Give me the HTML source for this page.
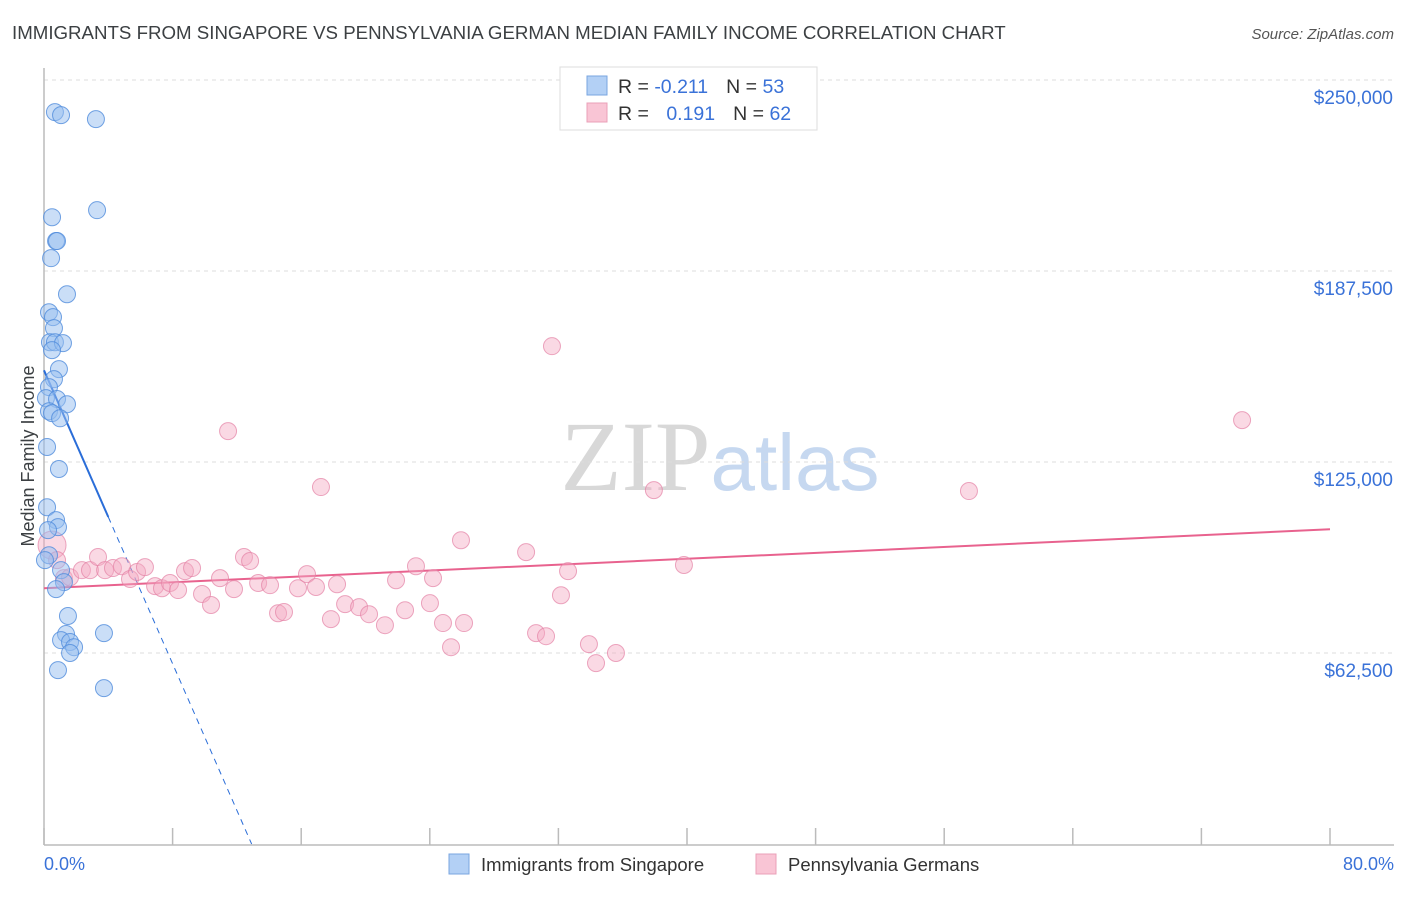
<!DOCTYPE html>
<html><head><meta charset="utf-8"><style>
body{margin:0;background:#fff;font-family:"Liberation Sans",sans-serif;}
svg text{font-family:"Liberation Sans",sans-serif;}
</style></head><body>
<svg id="chart" width="1406" height="892" xmlns="http://www.w3.org/2000/svg">
<text x="12" y="39" font-size="18.7" fill="#3c4043">IMMIGRANTS FROM SINGAPORE VS PENNSYLVANIA GERMAN MEDIAN FAMILY INCOME CORRELATION CHART</text>
<text x="1394" y="39" font-size="15" fill="#555" text-anchor="end" font-style="italic">Source: ZipAtlas.com</text>
<text x="720" y="490" font-size="100" text-anchor="middle"><tspan fill="#d8d8d8" font-family="Liberation Serif,serif">ZIP</tspan><tspan fill="#c6d8f0" font-size="80">atlas</tspan></text>
<g id="grid"></g>
<g id="axes"></g>
<g id="trend"></g>
<g id="pts"></g>
<text transform="translate(34,456) rotate(-90)" font-size="18" fill="#3c4043" text-anchor="middle">Median Family Income</text>
<text x="44" y="870" font-size="18" fill="#3a72d8">0.0%</text>
<text x="1394" y="870" font-size="18" fill="#3a72d8" text-anchor="end">80.0%</text>
<g>
<rect x="560" y="67" width="257" height="63" fill="#fff" stroke="#ddd"/>
<rect x="587" y="76" width="20" height="19" fill="#b3d0f5" stroke="#7aa6e0"/>
<rect x="587" y="103" width="20" height="19" fill="#f9c5d5" stroke="#eaa0b8"/>
<text x="618" y="93" font-size="19.5" fill="#333">R = <tspan fill="#3a72d8">-0.211</tspan><tspan dx="18">N = </tspan><tspan fill="#3a72d8">53</tspan></text>
<text x="618" y="120" font-size="19.5" fill="#333">R = <tspan fill="#3a72d8" dx="12">0.191</tspan><tspan dx="18">N = </tspan><tspan fill="#3a72d8">62</tspan></text>
</g>
<g>
<rect x="449" y="854" width="20" height="20" fill="#b3d0f5" stroke="#7aa6e0"/>
<text x="481" y="871" font-size="18.5" fill="#333">Immigrants from Singapore</text>
<rect x="756" y="854" width="20" height="20" fill="#f9c5d5" stroke="#eaa0b8"/>
<text x="788" y="871" font-size="18.5" fill="#333">Pennsylvania Germans</text>
</g>
</svg>
<script>
const yTicks=[62500,125000,187500,250000];
const yTickLabels=["$62,500","$125,000","$187,500","$250,000"];
const xTicks=[0,8,16,24,32,40,48,56,64,72,80];
const blueX=[0.68,1.06,3.23,0.50,3.30,0.75,0.81,0.44,1.43,0.31,0.56,0.62,0.37,0.68,1.18,0.50,0.93,0.62,0.31,0.12,0.81,1.43,0.31,0.50,1.00,0.19,0.93,0.19,0.75,0.87,0.25,0.31,0.06,1.06,1.24,0.75,1.49,3.73,1.37,1.06,1.62,1.87,1.62,0.87,3.73];
const blueY=[239500,238500,237200,205100,207400,197300,197300,191700,179900,174000,172400,168800,164200,164200,163900,161600,155400,152100,149500,145900,145600,143900,141600,141000,139300,129900,122700,110200,106000,103700,102700,94500,92900,89600,85700,83400,74600,69000,68700,66700,66100,64400,62500,56900,51000];
const pinkX=[0.5,0.81,1.24,1.62,2.36,2.86,3.36,3.80,4.29,4.85,5.35,5.79,6.28,6.91,7.34,7.84,8.34,8.77,9.21,9.83,10.39,10.95,11.45,11.82,12.44,12.82,13.32,14.06,14.56,14.93,15.80,16.36,16.92,17.23,18.23,17.85,18.73,19.60,20.22,21.21,21.90,22.46,23.14,24.01,24.20,24.82,25.32,25.94,26.13,29.99,30.61,31.23,31.60,32.16,32.60,33.90,34.34,35.58,37.94,39.81,57.54,74.53];
const pinkY=[97800,92900,87000,87300,89600,89600,93900,89600,90300,90900,86700,89000,90600,84400,83700,85400,83100,89300,90300,81800,78200,87000,135100,83400,93900,92600,85400,84700,75500,75900,83700,88300,84100,116800,85000,73600,78500,77500,75200,71600,86300,76500,90900,78800,87000,72300,64400,99400,72300,95500,69000,68000,162900,81400,89300,65400,59200,62500,115800,91300,115500,138700];
const blueTrend=[155000,-12000];
const pinkTrend=[83700,241];
const NS="http://www.w3.org/2000/svg";
const X=p=>44+p*1286/80, Y=v=>844-v*191/62500;
function mk(tag,attrs,parent){const e=document.createElementNS(NS,tag);for(const k in attrs)e.setAttribute(k,attrs[k]);parent.appendChild(e);return e;}
const grid=document.getElementById('grid'),axes=document.getElementById('axes'),trend=document.getElementById('trend'),pts=document.getElementById('pts');
yTicks.forEach((v,i)=>{
 const l=mk('line',{x1:44,x2:1394,y1:Y(v),y2:Y(v),stroke:'#ddd','stroke-dasharray':'4,4'},grid);
 
 
 const t=mk('text',{x:1393,y:Y(v)+24,'font-size':19,fill:'#3a72d8','text-anchor':'end'},grid);
 t.textContent=yTickLabels[i];
 
 
});
const ya=mk('line',{x1:44,x2:44,y1:68,y2:845,stroke:'#bbb','stroke-width':1.5},axes);


const xa=mk('line',{x1:44,x2:1394,y1:845,y2:845,stroke:'#bbb','stroke-width':1.5},axes);


xTicks.forEach(p=>{
 const t=mk('line',{x1:X(p),x2:X(p),y1:828,y2:845,stroke:'#bbb','stroke-width':1.5},axes);
 
 
});
pinkX.forEach((p,i)=>{
 const c=mk('circle',{cx:X(p),cy:Y(pinkY[i]),r:i===0?14:8.5,fill:'rgba(245,170,195,0.45)',stroke:'rgba(228,130,165,0.7)','stroke-width':1},pts);
 
 
});
blueX.forEach((p,i)=>{
 const c=mk('circle',{cx:X(p),cy:Y(blueY[i]),r:8.5,fill:'rgba(150,190,240,0.5)',stroke:'rgba(80,140,220,0.8)','stroke-width':1},pts);
 
 
});
const bt=p=>blueTrend[0]+blueTrend[1]*p, pt=p=>pinkTrend[0]+pinkTrend[1]*p;
const bEnd=-blueTrend[0]/blueTrend[1];
const b1=mk('line',{x1:X(0),y1:Y(bt(0)),x2:X(4),y2:Y(bt(4)),stroke:'#2a6dd8','stroke-width':2},trend);


const b2=mk('line',{x1:X(4),y1:Y(bt(4)),x2:X(bEnd),y2:Y(0),stroke:'#2a6dd8','stroke-width':1,'stroke-dasharray':'6,5'},trend);


const p1=mk('line',{x1:X(0),y1:Y(pt(0)),x2:X(80),y2:Y(pt(80)),stroke:'#e8628e','stroke-width':2},trend);


</script>
</body></html>
